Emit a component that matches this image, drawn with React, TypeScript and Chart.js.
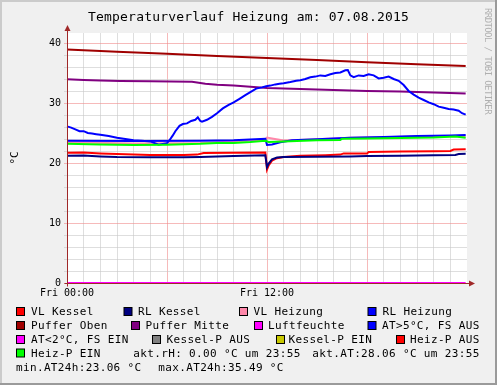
import React, { useEffect, useRef } from "react";
import { Chart, registerables } from "chart.js";

Chart.register(...registerables);

const W = 497;
const H = 385;
const MONO = '"DejaVu Sans Mono", monospace';

const TITLE = "Temperaturverlauf Heizung am: 07.08.2015";
const Y_TITLE = "°C";
const WATERMARK = "RRDTOOL / TOBI OETIKER";
const X_TICK_LABELS: Record<number, string> = { 0: "Fri 00:00", 12: "Fri 12:00" };
const Y_MAX = 41.667;
const Y_TICK_VALUES = [0, 2, 4, 6, 8, 10, 12, 14, 16, 18, 20, 22, 24, 26, 28, 30, 32, 34, 36, 38, 40];

// ---- series data (hours since 00:00, °C) ----
const vlKesselH = [0, 1, 2, 3, 4, 5, 6, 7, 7.8, 8.2, 10, 11.9, 12.0, 12.1, 12.3, 12.6, 13, 14, 15.5, 16.4, 16.6, 18, 18.1, 20, 22, 23.0, 23.2, 23.92];
const vlKesselV = [21.7, 21.75, 21.6, 21.5, 21.4, 21.35, 21.35, 21.35, 21.4, 21.65, 21.7, 21.75, 18.9, 19.6, 20.4, 20.8, 21.0, 21.2, 21.3, 21.4, 21.6, 21.6, 21.85, 21.9, 21.95, 22.0, 22.25, 22.3];

const rlKesselH = [0, 1, 2, 3, 5, 7, 8, 10, 11.9, 12.0, 12.1, 12.3, 12.6, 13, 15, 17, 18, 20, 22, 23.3, 23.5, 23.92];
const rlKesselV = [21.2, 21.25, 21.1, 21.0, 20.95, 20.95, 21.0, 21.15, 21.3, 19.3, 19.9, 20.6, 20.9, 21.0, 21.05, 21.1, 21.15, 21.2, 21.3, 21.35, 21.5, 21.55];

const vlHeizungH = [0, 4, 8, 10, 11.9, 12.0, 12.3, 13, 15, 17, 19, 21, 23, 23.92];
const vlHeizungV = [23.45, 23.25, 23.35, 23.6, 23.9, 24.25, 24.1, 23.75, 23.95, 24.2, 24.3, 24.4, 24.5, 24.4];

const rlHeizungH = [0, 4, 8, 10, 11.9, 12.0, 12.3, 12.8, 13.5, 15, 17, 19, 21, 23, 23.92];
const rlHeizungV = [23.7, 23.65, 23.7, 23.8, 24.05, 23.0, 23.1, 23.45, 23.8, 23.95, 24.2, 24.35, 24.5, 24.6, 24.65];

const pufferObenH = [0, 3, 6, 9, 12, 15, 18, 21, 23.92];
const pufferObenV = [38.9, 38.55, 38.2, 37.85, 37.5, 37.15, 36.8, 36.45, 36.15];

const pufferMitteH = [0, 1, 2, 3.2, 5, 7.5, 8.3, 9, 10, 11, 12, 14, 16, 18, 20, 22, 23.92];
const pufferMitteV = [33.95, 33.85, 33.75, 33.67, 33.62, 33.55, 33.2, 33.05, 32.9, 32.7, 32.5, 32.35, 32.15, 32.0, 31.9, 31.75, 31.6];

const luftfeuchteH = [0, 23.92];
const luftfeuchteV = [0, 0];

const atH = [0, 0.25, 0.5, 0.75, 1.0, 1.25, 1.5, 1.75, 2.0, 2.5, 3.0, 3.5, 4.0, 4.5, 5.0, 5.5, 6.0, 6.15, 6.35, 6.5, 6.75, 6.95, 7.2, 7.45, 7.7, 7.85, 8.0, 8.1, 8.4, 8.7, 9.0, 9.35, 9.7, 10.0, 10.35, 10.7, 11.0, 11.35, 11.7, 11.95, 12.2, 12.5, 12.75, 13.0, 13.4, 13.75, 14.0, 14.3, 14.6, 14.9, 15.2, 15.5, 15.8, 16.1, 16.4, 16.7, 16.85, 17.0, 17.2, 17.5, 17.8, 18.1, 18.4, 18.7, 19.0, 19.3, 19.6, 19.9, 20.2, 20.5, 20.8, 21.1, 21.4, 21.7, 22.0, 22.3, 22.6, 22.9, 23.2, 23.5, 23.7, 23.92];
const atV = [26.1, 25.9, 25.6, 25.3, 25.3, 25.0, 24.9, 24.8, 24.7, 24.5, 24.2, 24.0, 23.8, 23.7, 23.6, 23.06, 23.3, 23.8, 24.6, 25.3, 26.2, 26.5, 26.6, 27.0, 27.2, 27.6, 27.0, 26.9, 27.2, 27.7, 28.3, 29.1, 29.7, 30.1, 30.7, 31.3, 31.8, 32.4, 32.6, 32.8, 32.9, 33.1, 33.2, 33.3, 33.5, 33.7, 33.8, 34.0, 34.3, 34.4, 34.6, 34.5, 34.8, 35.0, 35.1, 35.45, 35.49, 34.6, 34.3, 34.6, 34.5, 34.8, 34.6, 34.1, 34.2, 34.4, 34.0, 33.7, 33.0, 32.0, 31.4, 30.9, 30.5, 30.1, 29.8, 29.4, 29.2, 29.0, 28.9, 28.7, 28.3, 28.06];

const heizPEinH = [0, 2, 4, 6, 8, 9, 10, 11, 11.9, 12.1, 13, 15, 16.4, 16.5, 18, 20, 22, 23.3, 23.92];
const heizPEinV = [23.2, 23.1, 23.0, 23.05, 23.2, 23.35, 23.35, 23.5, 23.7, 23.5, 23.6, 23.8, 23.85, 24.05, 24.1, 24.15, 24.25, 24.4, 24.2];

// ---- legend ----
const legendLabels = [
  "VL Kessel", "RL Kessel", "VL Heizung", "RL Heizung",
  "Puffer Oben", "Puffer Mitte", "Luftfeuchte", "AT>5°C, FS AUS",
  "AT<2°C, FS EIN", "Kessel-P AUS", "Kessel-P EIN", "Heiz-P AUS",
  "Heiz-P EIN",
];
const legendColors = [
  "#ff0000", "#000080", "#ff88aa", "#0000ff",
  "#a00000", "#800080", "#ff00ff", "#0000ff",
  "#ff00ff", "#808080", "#c8c800", "#ff0000",
  "#00ff00",
];
const infoTexts = [
  "akt.rH: 0.00 °C um 23:55",
  "akt.AT:28.06 °C um 23:55",
  "min.AT24h:23.06 °C",
  "max.AT24h:35.49 °C",
];

// layout of legend (box x, text x, baseline y)
const legendLayout = [
  [16.5, 31, 315], [124, 138, 315], [239.5, 253.5, 315], [368, 382.5, 315],
  [16.5, 31, 329], [131.5, 145.5, 329], [254.5, 268, 329], [368, 382, 329],
  [16.5, 31, 343], [152.5, 166.5, 343], [276.5, 288.5, 343], [396.5, 410, 343],
  [16.5, 31, 356.5],
];
const infoLayout = [
  [133.3, 356.5], [312.3, 356.5], [16, 370.5], [158.3, 370.5],
];

const pts = (h: number[], v: number[]) => h.map((x, i) => ({ x, y: v[i] }));

const seriesDefs = [
  { label: "VL Kessel", h: vlKesselH, v: vlKesselV, color: "#ff0000" },
  { label: "RL Kessel", h: rlKesselH, v: rlKesselV, color: "#000080" },
  { label: "VL Heizung", h: vlHeizungH, v: vlHeizungV, color: "#ff88aa" },
  { label: "RL Heizung", h: rlHeizungH, v: rlHeizungV, color: "#0000ff" },
  { label: "Puffer Oben", h: pufferObenH, v: pufferObenV, color: "#a00000" },
  { label: "Puffer Mitte", h: pufferMitteH, v: pufferMitteV, color: "#800080" },
  { label: "Luftfeuchte", h: luftfeuchteH, v: luftfeuchteV, color: "#ff00ff" },
  { label: "AT>5°C, FS AUS", h: atH, v: atV, color: "#0000ff" },
  { label: "Heiz-P EIN", h: heizPEinH, v: heizPEinV, color: "#00ff00" },
];

const AXIS_COLOR = "#a02828";

const rrdPlugin = {
  id: "rrdDecor",
  beforeDraw(chart: any) {
    const c = chart.ctx;
    const a = chart.chartArea;
    c.save();
    c.fillStyle = "#f0f0f0";
    c.fillRect(0, 0, W, H);
    c.fillStyle = "#cbcbcb";
    c.fillRect(0, 0, W, 2);
    c.fillRect(0, 0, 2, H);
    c.fillStyle = "#9a9a9a";
    c.fillRect(0, H - 2, W, 2);
    c.fillRect(W - 2, 0, 2, H);
    c.fillStyle = "#ffffff";
    c.fillRect(a.left, a.top, a.right - a.left, a.bottom - a.top);
    c.restore();
  },
  afterDatasetsDraw(chart: any) {
    const c = chart.ctx;
    const a = chart.chartArea;
    const x0 = Math.round(a.left) + 0.5;
    const y0 = Math.round(a.bottom) + 0.5;
    c.save();
    c.strokeStyle = AXIS_COLOR;
    c.fillStyle = AXIS_COLOR;
    c.lineWidth = 1;
    c.beginPath();
    c.moveTo(x0, y0 + 3);
    c.lineTo(x0, a.top - 4);
    c.moveTo(x0 - 3, y0);
    c.lineTo(a.right + 3, y0);
    c.stroke();
    // arrows
    c.beginPath();
    c.moveTo(x0 - 3, a.top - 2);
    c.lineTo(x0 + 3, a.top - 2);
    c.lineTo(x0, a.top - 8);
    c.closePath();
    c.fill();
    c.beginPath();
    c.moveTo(a.right + 2, y0 - 3);
    c.lineTo(a.right + 2, y0 + 3);
    c.lineTo(a.right + 8, y0);
    c.closePath();
    c.fill();
    c.restore();
  },
  afterDraw(chart: any) {
    const c = chart.ctx;
    const a = chart.chartArea;
    c.save();
    c.fillStyle = "#000";
    c.textBaseline = "alphabetic";
    // title
    c.font = `13px ${MONO}`;
    (c as any).letterSpacing = "0.2px";
    c.textAlign = "center";
    c.fillText(TITLE, W / 2, 20.7);
    // y title
    c.save();
    c.font = `11px ${MONO}`;
    (c as any).letterSpacing = "0px";
    c.translate(18, (a.top + a.bottom) / 2);
    c.rotate(-Math.PI / 2);
    c.textAlign = "center";
    c.fillText(Y_TITLE, 0, 0);
    c.restore();
    // watermark
    c.save();
    c.font = `9px ${MONO}`;
    (c as any).letterSpacing = "-0.6px";
    c.fillStyle = "#b0b0b0";
    c.translate(484.5, 8);
    c.rotate(Math.PI / 2);
    c.textAlign = "left";
    c.fillText(WATERMARK, 0, 0);
    c.restore();
    // legend
    c.font = `11px ${MONO}`;
    (c as any).letterSpacing = "0.35px";
    c.textAlign = "left";
    legendLabels.forEach((lab, i) => {
      const [bx, tx, by] = legendLayout[i];
      c.fillStyle = legendColors[i];
      c.fillRect(bx, by - 7.5, 8, 8);
      c.strokeStyle = "#000";
      c.lineWidth = 1;
      c.strokeRect(bx, by - 7.5, 8, 8);
      c.fillStyle = "#000";
      c.fillText(lab, tx, by);
    });
    infoTexts.forEach((t, i) => {
      const [tx, by] = infoLayout[i];
      c.fillText(t, tx, by);
    });
    c.restore();
  },
};

export default function App() {
  const ref = useRef<HTMLCanvasElement>(null);
  useEffect(() => {
    document.body.style.margin = "0";
    const canvas = ref.current!;
    const n = seriesDefs.length;
    const chart = new Chart(canvas, {
      type: "line",
      data: {
        datasets: seriesDefs.map((s, i) => ({
          label: s.label,
          data: pts(s.h, s.v),
          borderColor: s.color,
          backgroundColor: s.color,
          borderWidth: 2,
          pointRadius: 0,
          tension: 0,
          fill: false,
          order: n - i,
          clip: 4,
        })),
      },
      options: {
        responsive: false,
        animation: false,
        devicePixelRatio: 1,
        layout: { padding: { left: 0, right: 30, top: 33, bottom: 82 } },
        plugins: {
          legend: { display: false },
          tooltip: { enabled: false },
          title: { display: false },
        },
        scales: {
          x: {
            type: "linear",
            min: 0,
            max: 24,
            afterFit: (s: any) => {
              s.height = 20;
            },
            ticks: {
              stepSize: 1,
              autoSkip: false,
              maxRotation: 0,
              padding: 4,
              color: "#000",
              font: { family: MONO, size: 10 },
              callback: (v: any) => X_TICK_LABELS[v as number] ?? "",
            },
            grid: {
              drawTicks: false,
              lineWidth: 1,
              color: (ctx: any) => {
                const v = ctx.tick?.value;
                if (v === 24 || v === 0) return "rgba(0,0,0,0)";
                return v % 6 === 0 ? "rgba(240,140,140,0.6)" : "rgba(200,200,200,0.6)";
              },
            },
            border: { display: false },
          },
          y: {
            min: 0,
            max: Y_MAX,
            afterFit: (s: any) => {
              s.width = 67;
            },
            afterBuildTicks: (s: any) => {
              s.ticks = Y_TICK_VALUES.map((value) => ({ value }));
            },
            ticks: {
              autoSkip: false,
              padding: 3,
              color: "#000",
              font: { family: MONO, size: 10 },
              callback: (v: any) => ((v as number) % 10 === 0 ? String(v) : ""),
            },
            grid: {
              drawTicks: true,
              tickLength: 3,
              lineWidth: 1,
              color: (ctx: any) => {
                const v = ctx.tick?.value;
                return v % 10 === 0 ? "rgba(240,140,140,0.6)" : "rgba(200,200,200,0.6)";
              },
            },
            border: { display: false },
          },
        },
      },
      plugins: [rrdPlugin],
    } as any);
    return () => chart.destroy();
  }, []);
  return (
    <div style={{ position: "fixed", left: 0, top: 0, width: W, height: H }}>
      <canvas ref={ref} width={W} height={H} style={{ display: "block", width: W, height: H }} />
    </div>
  );
}
